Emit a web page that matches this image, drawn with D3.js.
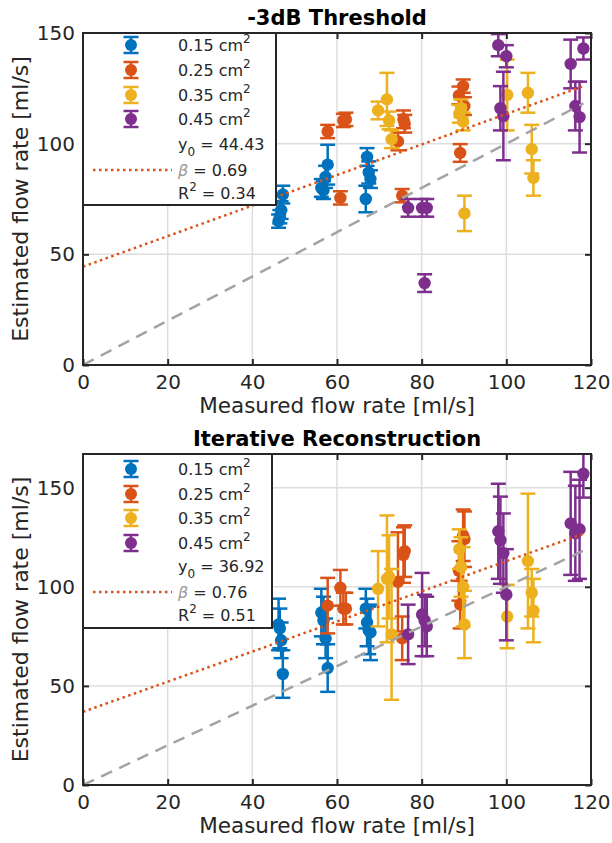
<!DOCTYPE html>
<html><head><meta charset="utf-8">
<script src="https://cdn.jsdelivr.net/npm/d3@7"></script>
<style>body{margin:0;background:#fff} svg{display:block}</style>
</head><body>
<svg id="c" width="612" height="843"></svg>
<script>
// ---------- data ----------
const areaLabels = ["0.15", "0.25", "0.35", "0.45"];
const xTicks = [0, 20, 40, 60, 80, 100, 120];
const yTicks = [0, 50, 100, 150];
const panelTitles = ["-3dB Threshold", "Iterative Reconstruction"];
const yMaxes = [150, 167];
const fitIntercepts = [44.43, 36.92];
const fitSlopes = [0.69, 0.76];
const fitR2 = [0.34, 0.51];

// measured flow (x) per area
const xBlue   = [46.2, 46.5, 46.8, 47.2, 56.3, 56.8, 57.3, 57.8, 66.8, 67.1, 67.5, 67.9];
const xOrange = [57.8, 60.8, 61.5, 62.1, 74.4, 75.4, 75.7, 76.0, 88.8, 89.1, 89.8, 90.1];
const xYellow = [69.7, 71.8, 72.3, 72.9, 88.9, 89.3, 89.8, 90.1, 100.2, 105.1, 106.0, 106.4];
const xPurple = [76.8, 80.1, 80.7, 81.2, 98.1, 98.6, 99.3, 100.0, 115.2, 116.3, 117.3, 118.2];

// -3dB threshold estimates and errors
const yThrBlue   = [65, 67, 70, 77, 80, 79, 85, 90.5, 75, 94, 87, 84];
const eThrBlue   = [3, 3, 4, 4, 4, 4, 5, 9, 6, 4, 5, 4];
const yThrOrange = [105.5, 75.5, 110.5, 111, 101, 76.5, 111, 109, 121.8, 95.8, 126, 117];
const eThrOrange = [3, 3, 3, 3, 4, 3, 4, 4, 4, 4, 3, 4];
const yThrYellow = [115, 120, 110.5, 102, 113.5, 116, 110, 68.5, 122, 123, 97.5, 84.5];
const eThrYellow = [4, 12, 4, 4, 4, 4, 4, 8, 16, 9, 11, 8];
const yThrPurple = [71, 71, 37, 71, 144.5, 116, 112.5, 139.5, 136, 117, 112, 143];
const eThrPurple = [4, 4, 4, 4, 5, 10, 20, 5, 11, 11, 16, 5];

// iterative reconstruction estimates and errors
const yItrBlue   = [81, 79, 73, 56, 87, 83, 74, 59, 89, 82, 78, 77];
const eItrBlue   = [13, 10, 9, 12, 12, 12, 10, 12, 10, 12, 12, 14];
const yItrOrange = [90.5, 99.5, 89, 89, 102.5, 74, 116, 118, 108, 91, 126, 124];
const eItrOrange = [14, 9, 8, 8, 25, 11, 14, 13, 15, 12, 13, 14];
const yItrYellow = [99, 104, 105, 76, 119, 110, 100, 81, 85, 113, 97, 88];
const eItrYellow = [19, 32, 21, 33, 10, 15, 20, 17, 16, 34, 12, 16];
const yItrPurple = [76, 86, 83, 80, 128, 123.5, 117, 96, 132, 127, 129, 157];
const eItrPurple = [15, 21, 13, 15, 24, 22, 20, 23, 26, 24, 25, 12];

// ---------- styles ----------
const colors = ["#0072BD", "#D95319", "#EDB120", "#7E2F8E"];
const axColor = "#262626";
const font = "DejaVu Sans, sans-serif";

const xs = [xBlue, xOrange, xYellow, xPurple];
const panels = [
  {top: 33, bottom: 365, ys: [yThrBlue, yThrOrange, yThrYellow, yThrPurple], es: [eThrBlue, eThrOrange, eThrYellow, eThrPurple],
   leg: {x0: 83, y0: 33, x1: 276, y1: 205, rows: [45, 70, 95, 119], y0row: 145, brow: 170, rrow: 193}},
  {top: 454, bottom: 785, ys: [yItrBlue, yItrOrange, yItrYellow, yItrPurple], es: [eItrBlue, eItrOrange, eItrYellow, eItrPurple],
   leg: {x0: 83, y0: 454, x1: 272, y1: 628, rows: [469, 494, 518, 543], y0row: 567, brow: 592, rrow: 615}}
];
const left = 83, right = 591;

const svg = d3.select("#c");
const x = d3.scaleLinear().domain([0, 120]).range([left, right]);
const xMaxData = d3.max(xs.flat());

panels.forEach((p, pi) => {
  const y = d3.scaleLinear().domain([0, yMaxes[pi]]).range([p.bottom, p.top]);
  const g = svg.append("g");
  const clipId = "clip" + pi;
  svg.append("clipPath").attr("id", clipId).append("rect")
    .attr("x", left).attr("y", p.top).attr("width", right - left).attr("height", p.bottom - p.top);

  // grid
  g.selectAll(".gx").data(xTicks).join("line")
    .attr("x1", d => x(d)).attr("x2", d => x(d)).attr("y1", p.top).attr("y2", p.bottom)
    .attr("stroke", "#dedede").attr("stroke-width", 1.5);
  g.selectAll(".gy").data(yTicks.filter(t => t <= yMaxes[pi])).join("line")
    .attr("class", "gy")
    .attr("x1", left).attr("x2", right).attr("y1", d => y(d)).attr("y2", d => y(d))
    .attr("stroke", "#dedede").attr("stroke-width", 1.5);

  // data
  const dg = g.append("g").attr("clip-path", `url(#${clipId})`);
  xs.forEach((xarr, si) => {
    const pts = xarr.map((xv, i) => ({x: xv, y: p.ys[si][i], e: p.es[si][i]}));
    const sg = dg.append("g").attr("stroke", colors[si]).attr("fill", colors[si]).attr("stroke-width", 2.5);
    const cap = 7.5;
    pts.forEach(d => {
      const cx = x(d.x);
      sg.append("line").attr("x1", cx).attr("x2", cx).attr("y1", y(d.y - d.e)).attr("y2", y(d.y + d.e));
      sg.append("line").attr("x1", cx - cap).attr("x2", cx + cap).attr("y1", y(d.y - d.e)).attr("y2", y(d.y - d.e));
      sg.append("line").attr("x1", cx - cap).attr("x2", cx + cap).attr("y1", y(d.y + d.e)).attr("y2", y(d.y + d.e));
      sg.append("circle").attr("cx", cx).attr("cy", y(d.y)).attr("r", 6.2).attr("stroke", "none");
    });
  });

  // identity & fit lines
  dg.append("line").attr("x1", x(0)).attr("y1", y(0)).attr("x2", x(xMaxData)).attr("y2", y(xMaxData))
    .attr("stroke", "#a3a3a3").attr("stroke-width", 2.5).attr("stroke-dasharray", "12,8");
  dg.append("line").attr("x1", x(0)).attr("y1", y(fitIntercepts[pi]))
    .attr("x2", x(xMaxData)).attr("y2", y(fitIntercepts[pi] + fitSlopes[pi] * xMaxData))
    .attr("stroke", colors[1]).attr("stroke-width", 2.5).attr("stroke-dasharray", "2.5,3.5");

  // axes (box with inward ticks)
  const tl = 6;
  g.append("g").attr("transform", `translate(0,${p.bottom})`)
    .call(d3.axisBottom(x).tickValues(xTicks).tickSize(-tl).tickPadding(10))
    .call(a => a.select(".domain").remove());
  g.append("g").attr("transform", `translate(0,${p.top})`)
    .call(d3.axisTop(x).tickValues(xTicks).tickSize(-tl).tickFormat(""))
    .call(a => a.select(".domain").remove());
  g.append("g").attr("transform", `translate(${left},0)`)
    .call(d3.axisLeft(y).tickValues(yTicks).tickSize(-tl).tickPadding(8))
    .call(a => a.select(".domain").remove());
  g.append("g").attr("transform", `translate(${right},0)`)
    .call(d3.axisRight(y).tickValues(yTicks).tickSize(-tl).tickFormat(""))
    .call(a => a.select(".domain").remove());
  g.selectAll(".tick line").attr("stroke", axColor).attr("stroke-width", 2);
  g.selectAll(".tick text").attr("fill", axColor).attr("font-family", font).attr("font-size", 20);
  g.append("rect").attr("x", left).attr("y", p.top).attr("width", right - left).attr("height", p.bottom - p.top)
    .attr("fill", "none").attr("stroke", axColor).attr("stroke-width", 2);

  // title & labels
  g.append("text").attr("x", (left + right) / 2).attr("y", p.top - 8).attr("text-anchor", "middle")
    .attr("font-family", font).attr("font-weight", "bold").attr("font-size", 21).attr("fill", "#000")
    .text(panelTitles[pi]);
  g.append("text").attr("x", (left + right) / 2).attr("y", p.bottom + 48).attr("text-anchor", "middle")
    .attr("font-family", font).attr("font-size", 21.5).attr("fill", axColor).text("Measured flow rate [ml/s]");
  g.append("text").attr("transform", `translate(28,${(p.top + p.bottom) / 2}) rotate(-90)`).attr("text-anchor", "middle")
    .attr("font-family", font).attr("font-size", 22).attr("fill", axColor).text("Estimated flow rate [ml/s]");

  // legend
  const L = p.leg;
  const lg = g.append("g");
  lg.append("rect").attr("x", L.x0).attr("y", L.y0).attr("width", L.x1 - L.x0).attr("height", L.y1 - L.y0)
    .attr("fill", "#fff").attr("stroke", axColor).attr("stroke-width", 2);
  const mx = L.x0 + 48, tx = L.x0 + 95;
  areaLabels.forEach((lab, si) => {
    const cy = L.rows[si];
    const ig = lg.append("g").attr("stroke", colors[si]).attr("fill", colors[si]).attr("stroke-width", 2.5);
    ig.append("line").attr("x1", mx).attr("x2", mx).attr("y1", cy - 8).attr("y2", cy + 8);
    ig.append("line").attr("x1", mx - 7.5).attr("x2", mx + 7.5).attr("y1", cy - 8).attr("y2", cy - 8);
    ig.append("line").attr("x1", mx - 7.5).attr("x2", mx + 7.5).attr("y1", cy + 8).attr("y2", cy + 8);
    ig.append("circle").attr("cx", mx).attr("cy", cy).attr("r", 6).attr("stroke", "none");
    const t = lg.append("text").attr("x", tx).attr("y", cy + 6).attr("font-family", font).attr("font-size", 16).attr("fill", axColor);
    t.append("tspan").text(lab + " cm");
    t.append("tspan").attr("dy", -8).attr("font-size", 12).text("2");
  });
  const t0 = lg.append("text").attr("x", tx).attr("y", L.y0row + 5).attr("font-family", font).attr("font-size", 16).attr("fill", axColor);
  t0.append("tspan").text("y");
  t0.append("tspan").attr("dy", 6).attr("font-size", 12).text("0");
  t0.append("tspan").attr("dy", -6).text(" = " + fitIntercepts[pi].toFixed(2));
  const tb = lg.append("text").attr("x", tx).attr("y", L.brow + 6).attr("font-family", font).attr("font-size", 16).attr("fill", axColor);
  tb.append("tspan").attr("font-style", "italic").attr("fill", "#999").text("β");
  tb.append("tspan").text(" = " + fitSlopes[pi].toFixed(2));
  const tr = lg.append("text").attr("x", tx).attr("y", L.rrow + 6).attr("font-family", font).attr("font-size", 16).attr("fill", axColor);
  tr.append("tspan").text("R");
  tr.append("tspan").attr("dy", -8).attr("font-size", 12).text("2");
  tr.append("tspan").attr("dy", 8).text(" = " + fitR2[pi].toFixed(2));
  lg.append("line").attr("x1", L.x0 + 10).attr("x2", L.x0 + 89).attr("y1", L.brow).attr("y2", L.brow)
    .attr("stroke", colors[1]).attr("stroke-width", 2.5).attr("stroke-dasharray", "2.5,3.5");
});
</script>
</body></html>
